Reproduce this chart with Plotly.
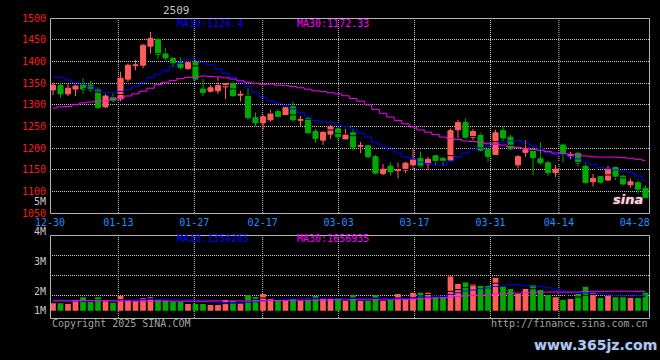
import plotly.graph_objects as go

# ---------------- data ----------------
dates = ["12-30", "12-31", "01-02", "01-03", "01-06", "01-07", "01-08", "01-09", "01-10", "01-13",
         "01-14", "01-15", "01-16", "01-17", "01-20", "01-21", "01-22", "01-23", "01-24", "01-27",
         "02-05", "02-06", "02-07", "02-10", "02-11", "02-12", "02-13", "02-14", "02-17",
         "02-18", "02-19", "02-20", "02-21", "02-24", "02-25", "02-26", "02-27", "02-28", "03-03",
         "03-04", "03-05", "03-06", "03-07", "03-10", "03-11", "03-12", "03-13", "03-14", "03-17",
         "03-18", "03-19", "03-20", "03-21", "03-24", "03-25", "03-26", "03-27", "03-28", "03-31",
         "04-01", "04-02", "04-03", "04-07", "04-08", "04-09", "04-10", "04-11", "04-14",
         "04-15", "04-16", "04-17", "04-18", "04-21", "04-22", "04-23", "04-24", "04-25", "04-28",
         "04-29", "04-30"]

opens = [1334, 1344, 1325, 1336, 1347, 1345, 1335, 1295, 1318, 1313,
         1359, 1390, 1391, 1435, 1451, 1417, 1407, 1397, 1383, 1398,
         1336, 1331, 1332, 1341, 1349, 1322, 1322, 1270, 1258,
         1265, 1284, 1275, 1295, 1264, 1268, 1238, 1218, 1232, 1244,
         1221, 1235, 1204, 1205, 1180, 1141, 1158, 1148, 1149, 1161,
         1176, 1163, 1182, 1176, 1172, 1242, 1259, 1225, 1230, 1197,
         1185, 1240, 1225, 1161, 1190, 1194, 1175, 1166, 1143,
         1207, 1181, 1188, 1158, 1122, 1134, 1126, 1155, 1135, 1115,
         1120, 1107]
highs = [1351, 1349, 1348, 1345, 1361, 1355, 1340, 1326, 1326, 1376,
         1395, 1403, 1440, 1468, 1452, 1430, 1409, 1409, 1402, 1403,
         1359, 1345, 1363, 1350, 1352, 1332, 1338, 1282, 1276,
         1288, 1289, 1295, 1307, 1274, 1272, 1244, 1239, 1253, 1249,
         1244, 1245, 1214, 1207, 1184, 1163, 1168, 1166, 1168, 1199,
         1192, 1180, 1184, 1180, 1245, 1265, 1268, 1244, 1235, 1199,
         1242, 1250, 1230, 1184, 1218, 1202, 1213, 1170, 1161,
         1210, 1191, 1190, 1165, 1140, 1135, 1159, 1157, 1138, 1132,
         1128, 1115]
lows = [1322, 1316, 1320, 1320, 1325, 1330, 1291, 1292, 1306, 1308,
        1353, 1379, 1384, 1418, 1405, 1403, 1386, 1382, 1381, 1357,
        1320, 1328, 1325, 1313, 1318, 1307, 1265, 1251, 1242,
        1261, 1268, 1275, 1261, 1249, 1234, 1212, 1207, 1221, 1218,
        1220, 1194, 1188, 1176, 1139, 1137, 1136, 1130, 1142, 1150,
        1155, 1149, 1161, 1158, 1171, 1222, 1221, 1218, 1192, 1168,
        1184, 1215, 1195, 1153, 1180, 1138, 1161, 1136, 1133,
        1166, 1174, 1157, 1118, 1111, 1118, 1124, 1126, 1114, 1108,
        1095, 1084]
closes = [1345, 1325, 1338, 1343, 1336, 1334, 1293, 1320, 1310, 1361,
          1391, 1392, 1437, 1453, 1416, 1408, 1397, 1386, 1397, 1359,
          1328, 1339, 1344, 1349, 1321, 1324, 1270, 1258, 1272,
          1280, 1272, 1293, 1265, 1266, 1235, 1222, 1236, 1249, 1226,
          1230, 1202, 1206, 1180, 1142, 1151, 1145, 1150, 1165, 1173,
          1157, 1174, 1171, 1171, 1240, 1259, 1225, 1238, 1195, 1180,
          1235, 1223, 1198, 1180, 1196, 1178, 1166, 1143, 1151,
          1188, 1185, 1165, 1120, 1130, 1121, 1153, 1135, 1117, 1122,
          1105, 1086]
volumes = [1.59, 1.59, 1.57, 1.70, 1.79, 1.64, 1.79, 1.66, 1.61, 1.83,
           1.68, 1.66, 1.76, 1.79, 1.72, 1.68, 1.64, 1.64, 1.57, 1.57,
           1.57, 1.53, 1.53, 1.70, 1.67, 1.59, 1.87, 1.80, 1.90,
           1.73, 1.68, 1.67, 1.76, 1.67, 1.76, 1.83, 1.76, 1.76, 1.79,
           1.67, 1.87, 1.67, 1.67, 1.87, 1.67, 1.70, 1.90, 1.70, 1.94,
           1.94, 1.94, 1.79, 1.79, 2.48, 2.23, 2.28, 2.23, 2.17, 2.17,
           2.44, 2.14, 2.07, 1.90, 2.07, 2.20, 2.03, 1.87, 1.79,
           1.70, 1.73, 1.90, 2.14, 1.94, 1.77, 1.83, 1.79, 1.79, 1.77,
           1.77, 1.94]  # millions

# moving-average values before enough in-window history exists
ma10_head = [1364.6, 1362.3, 1357.0, 1351.6, 1347.0, 1341.6, 1333.9, 1328.5, 1328.5]
ma30_head = [1292, 1295, 1296, 1300, 1304, 1306, 1308, 1309, 1312, 1315,
             1320, 1325, 1331, 1338, 1346, 1352, 1356, 1360, 1363, 1365,
             1366, 1365, 1364, 1362, 1359, 1355, 1352, 1349, 1347]
vol_ma10_head = [1.70, 1.69, 1.67, 1.66, 1.66, 1.67, 1.68, 1.68, 1.67]
vol_ma30_head = [1.67, 1.67, 1.67, 1.67, 1.68, 1.68, 1.68, 1.68, 1.67, 1.67,
                 1.67, 1.66, 1.66, 1.66, 1.66, 1.66, 1.66, 1.66, 1.66, 1.66,
                 1.66, 1.67, 1.67, 1.67, 1.67, 1.67, 1.67, 1.67, 1.67]

label_dates = ["12-30", "01-13", "01-27", "02-17", "03-03", "03-17", "03-31", "04-14", "04-28"]
price_ticks = [1050, 1100, 1150, 1200, 1250, 1300, 1350, 1400, 1450, 1500]
vol_ticks = [1, 2, 3, 4, 5]
vol_tick_text = ["1M", "2M", "3M", "4M", "5M"]
contract = "2509"
price_ma_text = ["MA10:1126.4", "MA30:1172.33"]
vol_ma_text = ["MA10:1350265", "MA30:1656935"]
copyright_text = "Copyright 2025 SINA.COM"
url_text = "http://finance.sina.com.cn"
watermark_text = "www.365jz.com"

# ---------------- helpers ----------------
W, H = 660, 360
RED, GREEN = "#FF5C5C", "#00AA00"
BLUE, MAG = "#0000FF", "#FF00FF"
GRID = "#C8C8C8"
BORDER = "#B4B4B4"
FONT = "DejaVu Sans Mono"


def px(x):
    return x / W


def py(y):
    return 1 - y / H


def moving_avg(vals, n, head=None):
    out = list(head) if head else [None] * (n - 1)
    for i in range(len(out), len(vals)):
        out.append(sum(vals[i - n + 1:i + 1]) / n)
    return out


n = len(dates)
idx = list(range(n))
up = [i for i in idx if closes[i] >= opens[i]]
dn = [i for i in idx if closes[i] < opens[i]]

ma5 = moving_avg(closes, 5)
ma10 = moving_avg(closes, 10, ma10_head)
ma30 = moving_avg(closes, 30, ma30_head)
vma5 = moving_avg(volumes, 5)
vma10 = moving_avg(volumes, 10, vol_ma10_head)
vma30 = moving_avg(volumes, 30, vol_ma30_head)

# geometry (pixels)
PL, PR = 50, 650
P_TOP, P_BOT = 18, 213
V_TOP, V_BOT = 235, 318
VOL_FLOOR_PX = 310.7
VOL_PX_PER_M = 30.0
VOL_ZERO_PX = 351.0
X0 = -0.4
XR = [X0, n + X0]
vol_lo = (VOL_ZERO_PX - VOL_FLOOR_PX) / VOL_PX_PER_M
vol_hi = 5.02
vol_dom = [py(VOL_FLOOR_PX), py(VOL_ZERO_PX - vol_hi * VOL_PX_PER_M)]

# Sina spaces date labels over n-1 intervals across the full width
label_pos = [dates.index(d) * n / (n - 1) + X0 for d in label_dates]

fig = go.Figure()


def wick_trace(ids, color):
    xs, ys = [], []
    for i in ids:
        xs += [i, i, None]
        ys += [lows[i], highs[i], None]
    return go.Scatter(x=xs, y=ys, mode="lines", line=dict(color=color, width=1),
                      hoverinfo="skip", xaxis="x", yaxis="y")


def body_trace(ids, color):
    return go.Bar(x=ids, y=[abs(closes[i] - opens[i]) for i in ids],
                  base=[min(opens[i], closes[i]) for i in ids], width=0.68,
                  marker=dict(color=color, line=dict(color=color, width=1)),
                  hoverinfo="skip", xaxis="x", yaxis="y")


fig.add_trace(wick_trace(up, RED))
fig.add_trace(wick_trace(dn, GREEN))
fig.add_trace(body_trace(up, RED))
fig.add_trace(body_trace(dn, GREEN))
for vals, col in [(ma5, "#000000"), (ma10, BLUE), (ma30, MAG)]:
    fig.add_trace(go.Scatter(x=idx, y=vals, mode="lines", line=dict(color=col, width=1, shape="hvh"),
                             hoverinfo="skip", xaxis="x", yaxis="y"))

# volume
for ids, col in [(up, RED), (dn, GREEN)]:
    fig.add_trace(go.Bar(x=ids, y=[volumes[i] for i in ids], width=0.76,
                         marker=dict(color=col, line=dict(width=0)),
                         hoverinfo="skip", xaxis="x2", yaxis="y2"))
for vals, col in [(vma5, "#000000"), (vma10, BLUE), (vma30, MAG)]:
    fig.add_trace(go.Scatter(x=idx, y=vals, mode="lines", line=dict(color=col, width=1, shape="hvh"),
                             hoverinfo="skip", xaxis="x2", yaxis="y2"))

# shapes: borders and grid
shapes = []
for (t, b) in [(P_TOP, P_BOT), (V_TOP, V_BOT)]:
    shapes.append(dict(type="rect", xref="paper", yref="paper", x0=px(PL + 0.5), x1=px(PR - 0.5),
                       y0=py(b + 0.5), y1=py(t + 0.5), line=dict(color=BORDER, width=1), layer="above"))
    for xp in label_pos[1:-1]:
        shapes.append(dict(type="line", xref="x", yref="paper", x0=xp, x1=xp, y0=py(b), y1=py(t),
                           line=dict(color=GRID, width=1, dash="1px,1px"), layer="below"))
for yy in [255, 275, 295]:
    shapes.append(dict(type="line", xref="paper", yref="paper", x0=px(PL), x1=px(PR - 1),
                       y0=py(yy + 0.5), y1=py(yy + 0.5), line=dict(color=GRID, width=1, dash="1px,1px"),
                       layer="below"))

annotations = [
    dict(text=contract, x=px(176), y=py(10), font=dict(color="#C4C4C4", size=11, family=FONT)),
    dict(text=price_ma_text[0], x=px(175), y=py(24), xanchor="left", font=dict(color=BLUE, size=10, family=FONT)),
    dict(text=price_ma_text[1], x=px(295), y=py(24), xanchor="left", font=dict(color=MAG, size=10, family=FONT)),
    dict(text=vol_ma_text[0], x=px(175), y=py(238), xanchor="left", font=dict(color=BLUE, size=10, family=FONT)),
    dict(text=vol_ma_text[1], x=px(295), y=py(238), xanchor="left", font=dict(color=MAG, size=10, family=FONT)),
    dict(text=copyright_text, x=px(50), y=py(323), xanchor="left", font=dict(color="#A0A0A0", size=10, family=FONT)),
    dict(text=url_text, x=px(650), y=py(323), xanchor="right", font=dict(color="#A0A0A0", size=10, family=FONT)),
    dict(text="<b>" + watermark_text + "</b>", x=px(595), y=py(345),
         font=dict(color="#B4C6E0", size=14, family="DejaVu Sans", shadow="0px 0px 2px #1C3778")),
    dict(text="<b><i>sina</i></b>", x=px(628), y=py(199),
         font=dict(color="#F2DDE2", size=13, family="DejaVu Sans", shadow="0px 0px 2px #C05070")),
]
for a in annotations:
    a.update(xref="paper", yref="paper", showarrow=False, yanchor="middle")
    a.setdefault("xanchor", "center")

fig.update_layout(
    width=W, height=H, margin=dict(l=0, r=0, t=0, b=0, autoexpand=False),
    paper_bgcolor="#000000", plot_bgcolor="rgba(0,0,0,0)",
    showlegend=False, barmode="overlay", hovermode=False,
    shapes=shapes, annotations=annotations,
    xaxis=dict(domain=[px(PL), px(PR)], range=XR, anchor="y", showgrid=False, zeroline=False,
               tickmode="array", tickvals=label_pos, ticktext=label_dates, automargin=False,
               tickfont=dict(color="#1E90FF", size=10, family=FONT), ticks="", ticklabelstandoff=2,
               showline=False),
    yaxis=dict(domain=[py(P_BOT), py(P_TOP)], range=[price_ticks[0], price_ticks[-1]], anchor="x",
               tickmode="array", tickvals=price_ticks, ticktext=[str(v) for v in price_ticks],
               tickfont=dict(color="#FF1A1A", size=10, family=FONT), ticks="", ticklabelstandoff=3,
               showgrid=True, gridcolor=GRID, griddash="1px,1px", gridwidth=1, zeroline=False,
               showline=False, automargin=False),
    xaxis2=dict(domain=[px(PL), px(PR)], range=XR, anchor="y2", showgrid=False, zeroline=False,
                showticklabels=False, ticks="", showline=False, automargin=False),
    yaxis2=dict(domain=vol_dom, range=[vol_lo, vol_hi], anchor="x2", automargin=False,
                tickmode="array", tickvals=[max(v, vol_lo + 0.01) for v in vol_ticks], ticktext=vol_tick_text,
                tickfont=dict(color="#C8C8C8", size=10, family=FONT), ticks="", ticklabelstandoff=3,
                showgrid=False, zeroline=False, showline=False),
)

fig.write_html("out.html", config={"displayModeBar": False},
               post_script="document.body.style.margin='0';document.body.style.background='#000';")
